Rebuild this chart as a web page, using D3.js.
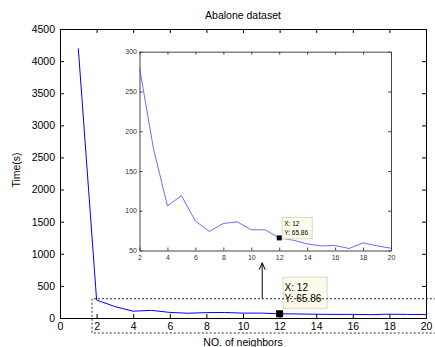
<!DOCTYPE html>
<html>
<head>
<meta charset="utf-8">
<script src="https://cdn.jsdelivr.net/npm/d3@7"></script>
<style>
  html, body { margin: 0; padding: 0; background: #fff; }
  svg { display: block; font-family: "Liberation Sans", Arial, sans-serif; }
</style>
</head>
<body>
<svg id="chart" width="435" height="347"></svg>
<script>
// ---- data ----
const neighbors = [1,2,3,4,5,6,7,8,9,10,11,12,13,14,15,16,17,18,19,20];
const timeSec  = [4200,280,178,106,119,87,74,84,86,76,76,65.86,63,58.3,55.8,56.3,52.5,59.6,55.8,52.9];
const mainXTicks = [0,2,4,6,8,10,12,14,16,18,20];
const mainYTicks = [0,500,1000,1500,2000,2500,3000,3500,4000,4500];
const insetXTicks = [2,4,6,8,10,12,14,16,18,20];
const insetYTicks = [50,100,150,200,250,300];
const title = "Abalone dataset";
const xLabel = "NO. of neighbors";
const yLabel = "Time(s)";
const tipX = 12, tipY = 65.86;
const tipLines = ["X: 12", "Y: 65.86"];

const svg = d3.select("#chart");

// ---- main axes ----
const x = d3.scaleLinear().domain([0,20]).range([60,426]);
const y = d3.scaleLinear().domain([0,4500]).range([318,29]);

function styleAxis(g, fs) {
  g.selectAll("path.domain").attr("stroke","#000").attr("stroke-width",1);
  g.selectAll(".tick line").attr("stroke","#000");
  g.selectAll("text").attr("font-size", fs).attr("fill","#000").attr("font-family","Liberation Sans, Arial, sans-serif");
}

svg.append("rect").attr("x",x(0)).attr("y",y(4500)).attr("width",x(20)-x(0)).attr("height",y(0)-y(4500))
  .attr("fill","#fff").attr("stroke","none");

const gxb = svg.append("g").attr("transform",`translate(0,${y(0)})`)
  .call(d3.axisBottom(x).tickValues(mainXTicks).tickSizeInner(-4).tickSizeOuter(0).tickPadding(5).tickFormat(d3.format("d")));
styleAxis(gxb, 10.5);
const gxt = svg.append("g").attr("transform",`translate(0,${y(4500)})`)
  .call(d3.axisTop(x).tickValues(mainXTicks).tickSizeInner(-4).tickSizeOuter(0).tickFormat(""));
styleAxis(gxt, 10.5);
const gyl = svg.append("g").attr("transform",`translate(${x(0)},0)`)
  .call(d3.axisLeft(y).tickValues(mainYTicks).tickSizeInner(-4).tickSizeOuter(0).tickPadding(5).tickFormat(d3.format("d")));
styleAxis(gyl, 10.5);
const gyr = svg.append("g").attr("transform",`translate(${x(20)},0)`)
  .call(d3.axisRight(y).tickValues(mainYTicks).tickSizeInner(-4).tickSizeOuter(0).tickFormat(""));
styleAxis(gyr, 10.5);

// main line
const line = d3.line().x((d,i)=>x(neighbors[i])).y(d=>y(d));
svg.append("path").datum(timeSec).attr("d",line)
  .attr("fill","none").attr("stroke","#0000ff").attr("stroke-width",1);

// title & labels
svg.append("text").attr("x",243).attr("y",19).attr("text-anchor","middle")
  .attr("font-size",10.5).text(title);
svg.append("text").attr("x",243).attr("y",346).attr("text-anchor","middle")
  .attr("font-size",10.5).text(xLabel);
svg.append("text").attr("transform","translate(20,170) rotate(-90)").attr("text-anchor","middle")
  .attr("font-size",10.5).text(yLabel);

// arrow
const ax = x(11.05);
svg.append("line").attr("x1",ax).attr("x2",ax).attr("y1",y(300)).attr("y2",y(860))
  .attr("stroke","#000").attr("stroke-width",1);
svg.append("path").attr("d",`M${ax-3},${y(860)+7} L${ax},${y(860)} L${ax+3},${y(860)+7}`)
  .attr("fill","none").attr("stroke","#000").attr("stroke-width",1);

// main data tip
const mx = x(tipX), my = y(tipY);
svg.append("rect").attr("x",mx+3.5).attr("y",my-36.5).attr("width",44).attr("height",31)
  .attr("fill","#fffbea").attr("stroke","#d9d6c8").attr("stroke-width",1);
tipLines.forEach((t,i)=>{
  svg.append("text").attr("x",mx+5).attr("y",my-22.5+i*10.5).attr("font-size",10).attr("fill","#000").text(t);
});
svg.append("rect").attr("x",mx-3.5).attr("y",my-3.5).attr("width",7).attr("height",7).attr("fill","#000");

// dashed zoom rectangle
const rx0 = x(1.75), ry0 = y(300), ry1 = y(0)+15;
svg.append("path").attr("d",`M440,${ry0} H${rx0} V${ry1} H440`)
  .attr("fill","none").attr("stroke","#333").attr("stroke-width",1).attr("stroke-dasharray","2,2");

// ---- inset ----
const ix = d3.scaleLinear().domain([2,20]).range([139.5,391]);
const iy = d3.scaleLinear().domain([50,300]).range([250.5,51.7]);
svg.append("rect").attr("x",ix(2)).attr("y",iy(300)).attr("width",ix(20)-ix(2)).attr("height",iy(50)-iy(300))
  .attr("fill","#fff");
const ixb = svg.append("g").attr("transform",`translate(0,${iy(50)})`)
  .call(d3.axisBottom(ix).tickValues(insetXTicks).tickSizeInner(-3).tickSizeOuter(0).tickPadding(4.5).tickFormat(d3.format("d")));
styleAxis(ixb, 7);
const ixt = svg.append("g").attr("transform",`translate(0,${iy(300)})`)
  .call(d3.axisTop(ix).tickValues(insetXTicks).tickSizeInner(-3).tickSizeOuter(0).tickFormat(""));
styleAxis(ixt, 7);
const iyl = svg.append("g").attr("transform",`translate(${ix(2)},0)`)
  .call(d3.axisLeft(iy).tickValues(insetYTicks).tickSizeInner(-3).tickSizeOuter(0).tickPadding(2.5).tickFormat(d3.format("d")));
styleAxis(iyl, 7);
const iyr = svg.append("g").attr("transform",`translate(${ix(20)},0)`)
  .call(d3.axisRight(iy).tickValues(insetYTicks).tickSizeInner(-3).tickSizeOuter(0).tickFormat(""));
styleAxis(iyr, 7);
[ixb,ixt,iyl,iyr].forEach(g=>{ g.selectAll("path.domain").attr("stroke","#444"); g.selectAll(".tick line").attr("stroke","#444"); g.selectAll("text").attr("fill","#333"); });

const iline = d3.line().x(d=>ix(d[0])).y(d=>iy(d[1]));
const insetData = neighbors.map((n,i)=>[n,timeSec[i]]).filter(d=>d[0]>=2);
svg.append("path").datum(insetData).attr("d",iline)
  .attr("fill","none").attr("stroke","#4646ff").attr("stroke-width",0.8);

const imx = ix(tipX), imy = iy(tipY);
svg.append("rect").attr("x",imx+3).attr("y",imy-20.5).attr("width",30).attr("height",21.5)
  .attr("fill","#fffbea").attr("stroke","#d9d6c8").attr("stroke-width",1);
tipLines.forEach((t,i)=>{
  svg.append("text").attr("x",imx+5).attr("y",imy-11.5+i*8.5).attr("font-size",6.5).attr("fill","#000").text(t);
});
svg.append("rect").attr("x",imx-2.5).attr("y",imy-2.5).attr("width",5).attr("height",5).attr("fill","#000");
</script>
</body>
</html>
